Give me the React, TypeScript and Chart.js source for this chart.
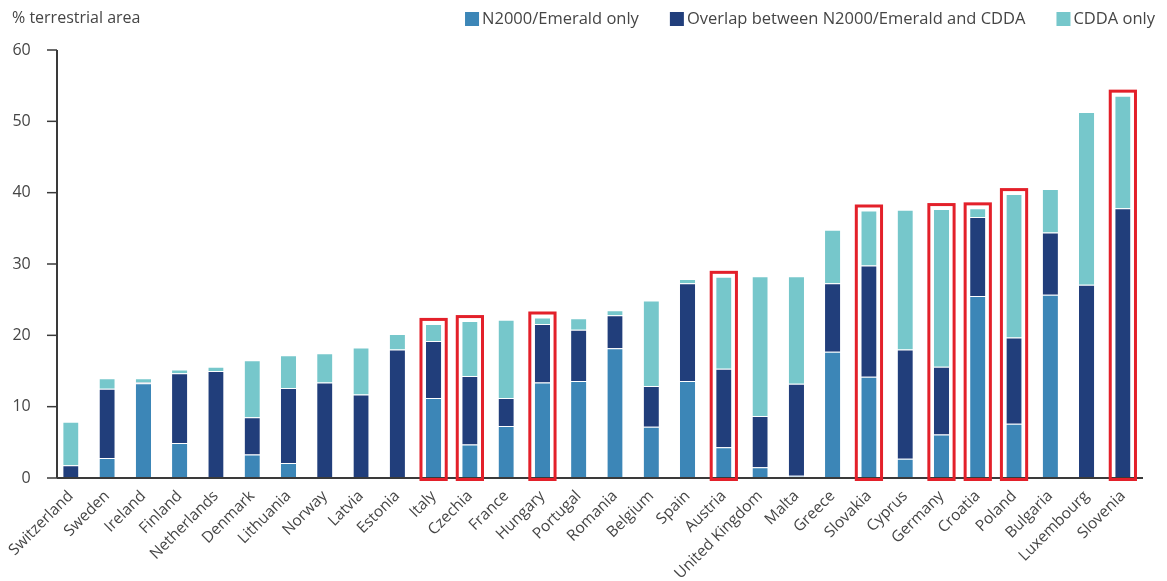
import React, { useEffect, useRef } from "react";
import { Chart, registerables } from "chart.js";

Chart.register(...registerables);

const countries = [
  "Switzerland", "Sweden", "Ireland", "Finland", "Netherlands", "Denmark", "Lithuania", "Norway",
  "Latvia", "Estonia", "Italy", "Czechia", "France", "Hungary", "Portugal", "Romania", "Belgium",
  "Spain", "Austria", "United Kingdom", "Malta", "Greece", "Slovakia", "Cyprus", "Germany",
  "Croatia", "Poland", "Bulgaria", "Luxembourg", "Slovenia",
];

const n2000Only = [
  0, 2.8, 13.3, 4.9, 0, 3.3, 2.1, 0, 0, 0, 11.2, 4.7, 7.3, 13.4, 13.6, 18.2, 7.2,
  13.6, 4.3, 1.5, 0.3, 17.7, 14.2, 2.7, 6.1, 25.5, 7.6, 25.7, 0, 0,
];

const overlapBoth = [
  1.8, 9.7, 0.1, 9.8, 15.0, 5.2, 10.5, 13.4, 11.7, 18.0, 8.0, 9.6, 3.9, 8.2, 7.2, 4.6, 5.7,
  13.7, 11.0, 7.2, 12.9, 9.6, 15.6, 15.3, 9.5, 11.1, 12.1, 8.7, 27.1, 37.8,
];

const cddaOnly = [
  6.1, 1.5, 0.6, 0.5, 0.6, 8.0, 4.6, 4.1, 6.6, 2.2, 2.4, 7.7, 11.0, 0.9, 1.6, 0.7, 12.0,
  0.6, 12.9, 19.6, 15.1, 7.5, 7.7, 19.6, 22.1, 1.2, 20.1, 6.1, 24.2, 15.8,
];

const highlighted = [
  "Italy", "Czechia", "Hungary", "Austria", "Slovakia", "Germany", "Croatia", "Poland", "Slovenia",
];

const yTicks = [0, 10, 20, 30, 40, 50, 60];

const seriesNames = ["N2000/Emerald only", "Overlap between N2000/Emerald and CDDA", "CDDA only"];
const seriesColors = ["#3c86b7", "#213e7b", "#76c7cb"];
const yTitle = "% terrestrial area";

const FONT = "'Open Sans', 'Noto Sans', sans-serif";

const decorPlugin = {
  id: "decor",
  afterDatasetsDraw(chart: any) {
    const { ctx, chartArea, scales } = chart;
    const y = scales.y;
    const y0 = y.getPixelForValue(0);
    const yTop = y.getPixelForValue(yTicks[yTicks.length - 1]);
    const axisX = chartArea.left + 4.3;
    ctx.save();
    ctx.strokeStyle = "#3a3a3a";
    ctx.lineWidth = 2;
    ctx.beginPath();
    ctx.moveTo(axisX, yTop);
    ctx.lineTo(axisX, y0);
    ctx.stroke();
    ctx.beginPath();
    ctx.moveTo(axisX, y0);
    ctx.lineTo(chartArea.right + 2, y0);
    ctx.stroke();
    ctx.lineWidth = 1.5;
    yTicks.forEach((v) => {
      const py = y.getPixelForValue(v);
      ctx.beginPath();
      ctx.moveTo(axisX - 10, py);
      ctx.lineTo(axisX, py);
      ctx.stroke();
    });
    const topMeta = chart.getDatasetMeta(chart.data.datasets.length - 1);
    ctx.strokeStyle = "#e3202a";
    ctx.lineWidth = 3;
    highlighted.forEach((name) => {
      const i = countries.indexOf(name);
      const el = topMeta.data[i];
      if (!el) return;
      const half = el.width / 2 + 5;
      const top = el.y - 4.5;
      ctx.strokeRect(el.x - half, top, half * 2, y0 + 1.5 - top);
    });
    ctx.restore();
  },
  afterDraw(chart: any) {
    const { ctx } = chart;
    ctx.save();
    ctx.fillStyle = "#454545";
    ctx.font = `16px ${FONT}`;
    ctx.textAlign = "left";
    ctx.textBaseline = "alphabetic";
    ctx.fillText(yTitle, 12, 22.5);
    ctx.font = `16.5px ${FONT}`;
    const box = 14;
    const gapText = 3;
    const gapItem = 31;
    let xr = 1155;
    const items = chart.data.datasets.map((d: any) => ({ label: d.label, color: d.backgroundColor }));
    ctx.textBaseline = "middle";
    for (let k = items.length - 1; k >= 0; k--) {
      const w = ctx.measureText(items[k].label).width;
      const textX = xr - w;
      const boxX = textX - gapText - box;
      ctx.fillStyle = items[k].color;
      ctx.fillRect(boxX, 12, box, box);
      ctx.fillStyle = "#454545";
      ctx.fillText(items[k].label, textX, 19.5);
      xr = boxX - gapItem;
    }
    ctx.restore();
  },
};

export default function App() {
  const ref = useRef<HTMLCanvasElement | null>(null);
  useEffect(() => {
    if (!ref.current) return;
    Chart.defaults.font.family = FONT;
    const chart = new Chart(ref.current, {
      type: "bar",
      data: {
        labels: countries,
        datasets: [n2000Only, overlapBoth, cddaOnly].map((data, k) => ({
          label: seriesNames[k],
          data,
          backgroundColor: seriesColors[k],
          borderColor: "rgba(255,255,255,0.55)",
          borderWidth: { top: 1, left: 0, right: 0, bottom: 0 },
          borderSkipped: false,
          barPercentage: 0.42,
          categoryPercentage: 1,
        })),
      },
      options: {
        animation: false,
        responsive: false,
        devicePixelRatio: 1,
        layout: { padding: { top: 50, right: 26, left: 0, bottom: 0 } },
        plugins: { legend: { display: false }, tooltip: { enabled: false } },
        scales: {
          x: {
            stacked: true,
            grid: { display: false },
            border: { display: false },
            ticks: {
              autoSkip: false,
              maxRotation: 45,
              minRotation: 45,
              padding: 1,
              color: "#454545",
              font: { family: FONT, size: 15.5 },
            },
            afterFit: (s: any) => {
              s.height = 103;
            },
          },
          y: {
            stacked: true,
            min: yTicks[0],
            max: yTicks[yTicks.length - 1],
            grid: { display: false },
            border: { display: false },
            ticks: {
              stepSize: 10,
              padding: 14,
              color: "#454545",
              font: { family: FONT, size: 16 },
            },
            afterBuildTicks: (s: any) => {
              s.ticks = yTicks.map((v) => ({ value: v }));
            },
            afterFit: (s: any) => {
              s.width = 52.7;
            },
          },
        },
      },
      plugins: [decorPlugin],
    });
    return () => chart.destroy();
  }, []);
  return (
    <div style={{ position: "absolute", left: 0, top: 0, width: 1167, height: 581, background: "#fff" }}>
      <canvas ref={ref} width={1167} height={581} />
    </div>
  );
}
